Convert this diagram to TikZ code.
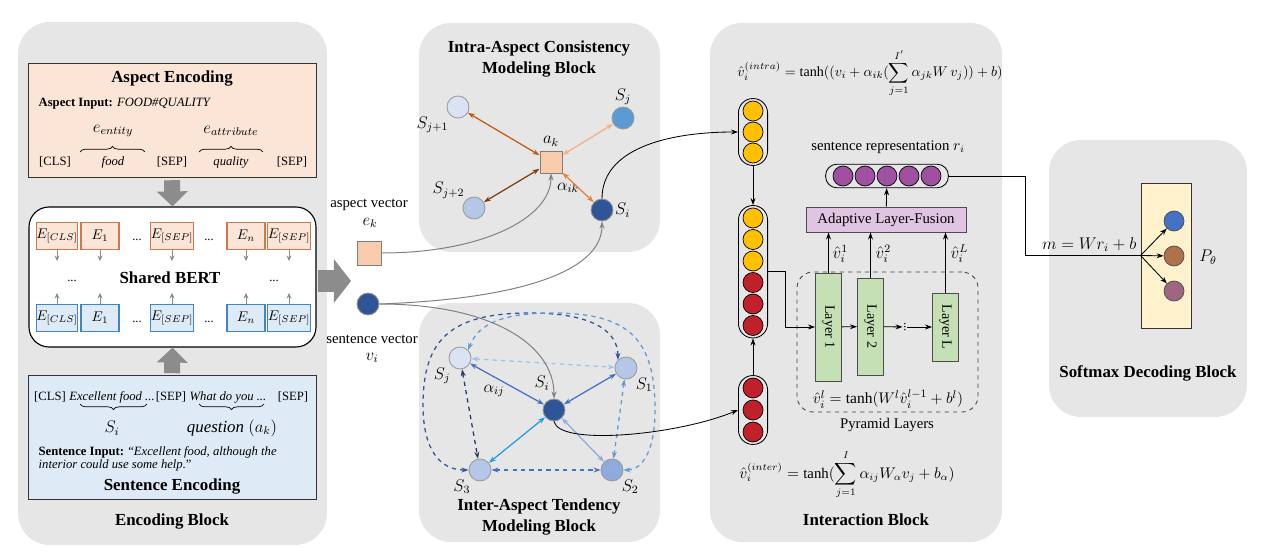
\documentclass[tikz,border=0pt]{standalone}
\usepackage{fontspec}
\setmainfont{Liberation Serif}
\usepackage{amsmath}
\usetikzlibrary{positioning,fit,shapes,calc,arrows.meta,decorations.pathreplacing}

\definecolor{blockgray}{RGB}{230,230,230}
\definecolor{peach}{RGB}{251,229,214}
\definecolor{peachdark}{RGB}{248,203,173}
\definecolor{tokorange}{RGB}{208,120,74}
\definecolor{skyfill}{RGB}{222,235,247}
\definecolor{tokblue}{RGB}{66,133,196}
\definecolor{navy}{RGB}{47,85,151}
\definecolor{navydark}{RGB}{32,56,100}
\definecolor{paleblue}{RGB}{218,227,243}
\definecolor{softblue}{RGB}{180,199,231}
\definecolor{midblue}{RGB}{143,170,220}
\definecolor{steelblue}{RGB}{91,155,213}
\definecolor{skyline}{RGB}{157,195,230}
\definecolor{royal}{RGB}{68,114,196}
\definecolor{cyanish}{RGB}{30,160,225}
\definecolor{rust}{RGB}{197,90,17}
\definecolor{darkrust}{RGB}{132,60,12}
\definecolor{lightorange}{RGB}{244,177,131}
\definecolor{orange2}{RGB}{237,125,49}
\definecolor{gold}{RGB}{255,192,0}
\definecolor{crimson}{RGB}{192,32,42}
\definecolor{plum}{RGB}{160,80,160}
\definecolor{lilac}{RGB}{224,196,226}
\definecolor{leaf}{RGB}{197,224,180}
\definecolor{cream}{RGB}{255,242,204}
\definecolor{outblue}{RGB}{68,114,196}
\definecolor{outbrown}{RGB}{176,112,72}
\definecolor{outplum}{RGB}{158,102,128}
\definecolor{arrowgray}{RGB}{140,140,140}

\begin{document}
\begin{tikzpicture}[x=0.025cm,y=-0.025cm,
        block/.style={fill=blockgray,rounded corners=0.8cm,inner sep=0pt},
        panel/.style={draw=black!80,line width=0.6pt,inner sep=0pt},
        title/.style={font=\fontsize{12}{15}\selectfont\bfseries,align=center},
        txt/.style={font=\fontsize{9}{11}\selectfont,inner sep=1pt},
        lbl/.style={font=\fontsize{10.5}{12}\selectfont,inner sep=1pt},
        mth/.style={font=\fontsize{12}{14}\selectfont,inner sep=1pt},
        tok/.style={line width=0.8pt,minimum width=0.95cm,minimum height=0.675cm,inner sep=0pt,font=\fontsize{10}{12}\selectfont},
        atok/.style={tok,draw=tokorange,fill=peach},
        stok/.style={tok,draw=tokblue,fill=skyfill},
        snode/.style={circle,draw=gray!80,line width=0.6pt,minimum size=0.55cm,inner sep=0pt},
        ball/.style={circle,draw=black,line width=0.5pt,minimum size=0.5cm,inner sep=0pt},
        capsule/.style={draw=black,line width=0.6pt,rounded corners=0.36cm,inner xsep=3pt,inner ysep=1.5pt},
        laybox/.style={draw=black!70,fill=leaf,line width=0.6pt,minimum width=0.65cm,inner sep=0pt,font=\fontsize{10}{12}\selectfont},
        bigarr/.style={draw=arrowgray,line width=0.4cm,-{Triangle[length=0.375cm,width=0.75cm]}},
        tinyarr/.style={draw=arrowgray,line width=0.6pt,-{Stealth[length=4pt,width=3.5pt]}},
        darr/.style={draw=black,line width=0.6pt,-{Stealth[length=5pt,width=3.5pt]}},
        grayarr/.style={draw=gray,line width=0.7pt,-{Stealth[length=5pt,width=3.5pt]}},
        biarr/.style={line width=0.9pt,{Stealth[length=5pt,width=3.5pt]}-{Stealth[length=5pt,width=3.5pt]}},
        dbiarr/.style={biarr,dashed},
        upbrace/.style={decorate,decoration={brace,amplitude=4pt},line width=0.5pt}
        ]
        \useasboundingbox (0,0) rectangle (1267,557);

        % the blocks
        \node[block,fit={(18,22) (327,545)}] (encblk) {};
        \node[block,fit={(419,23) (660,252)}] (intrablk) {};
        \node[block,fit={(419,303) (660,542)}] (interblk) {};
        \node[block,fit={(710,23) (1002,542)}] (actblk) {};
        \node[block,fit={(1049,140) (1247,417)}] (smblk) {};

        % aspect encoding
        \node[panel,fill=peach,fit={(28,63) (316,177)}] (aspbox) {};
        \node[title] (asptitle) at (172,79) {Aspect Encoding};
        \node[txt,anchor=west] (aspin) at (37,104) {\textbf{Aspect Input:} \textit{FOOD\#QUALITY}};
        \node[txt] (acls) at (55,162) {[CLS]};
        \node[txt] (afood) at (113,162) {\textit{food}};
        \node[txt] (asep1) at (172,162) {[SEP]};
        \node[txt] (aqual) at (231,162) {\textit{quality}};
        \node[txt] (asep2) at (292,162) {[SEP]};
        \draw[upbrace] (80,152) -- (145,152);
        \draw[upbrace] (199,152) -- (263,152);
        \node[mth] (eent) at (113,131) {$e_{entity}$};
        \node[mth] (eatt) at (231,131) {$e_{attribute}$};

        % shared bert
        \node[draw=black,line width=0.8pt,fill=white,rounded corners=0.5cm,inner sep=0pt,fit={(29,207) (316,347)}] (bert) {};
        \foreach \n/\x/\lab in {1/57/{[CLS]},2/100/1,3/172/{[SEP]},4/246/n,5/289/{[SEP]}} {
            \node[atok] (a\n) at (\x,236) {$E_{\lab}$};
            \node[stok] (b\n) at (\x,318) {$E_{\lab}$};
            \draw[tinyarr] (a\n.south) -- ++(0,11);
            \draw[tinyarr] (b\n.north) -- ++(0,-11);
        }
        \node[txt] (ad1) at (137,240) {...};
        \node[txt] (ad2) at (209,240) {...};
        \node[txt] (bd1) at (137,322) {...};
        \node[txt] (bd2) at (209,322) {...};
        \node[txt] (md1) at (72,281) {...};
        \node[txt] (md2) at (274,281) {...};
        \node[title] (berttitle) at (170,278) {Shared BERT};

        % sentence encoding
        \node[panel,fill=skyfill,fit={(28,375) (316,499)}] (sentbox) {};
        \node[txt] (scls) at (50,397) {[CLS]};
        \node[txt] (sexc) at (112,397) {\textit{Excellent food ...}};
        \node[txt] (ssep1) at (171,397) {[SEP]};
        \node[txt] (swhat) at (228,397) {\textit{What do you ...}};
        \node[txt] (ssep2) at (293,397) {[SEP]};
        \draw[upbrace] (147,404) -- (80,404);
        \draw[upbrace] (264,404) -- (199,404);
        \node[mth] (ssi) at (112,428) {$S_i$};
        \node[mth] (sq) at (232,428) {\textit{question} $(a_k)$};
        \node[txt,font=\fontsize{9}{9.3}\selectfont,anchor=west,align=left] (sin) at (37,459) {\textbf{Sentence Input:} ``\textit{Excellent food, although the}\\\textit{interior could use some help.}''};
        \node[title] (senttitle) at (172,487) {Sentence Encoding};
        \node[title] (enctitle) at (172,522) {Encoding Block};

        \draw[bigarr,shorten <=2pt] (aspbox.south) -- (bert.north);
        \draw[bigarr,shorten <=1pt] (sentbox.north) -- (bert.south);
        \coordinate (encout) at (318,281);
        \coordinate (encin) at (351,281);
        \draw[bigarr,line width=0.55cm,-{Triangle[length=0.43cm,width=1.08cm]}] (encout) -- (encin);

        % the vectors
        \node[lbl] (avtxt) at (369,205) {aspect vector};
        \node[mth] (ektxt) at (370,223) {$e_k$};
        \node[draw=gray,fill=peachdark,line width=0.6pt,minimum size=0.6cm,inner sep=0pt] (avec) at (369,253) {};
        \node[snode,fill=navy] (vvec) at (368,304) {};
        \node[lbl] (svtxt) at (372,339) {sentence vector};
        \node[mth] (vitxt) at (372,358) {$v_i$};

        % intra-aspect block
        \node[title] (intratitle) at (539,59) {Intra-Aspect Consistency\\Modeling Block};
        \node[draw=gray,fill=peachdark,line width=0.6pt,minimum size=0.55cm,inner sep=0pt,label={[mth,label distance=2pt]above:$a_k$}] (ak) at (551,162) {};
        \node[snode,fill=paleblue,label={[mth]below left:$S_{j+1}$}] (sj1) at (458,107) {};
        \node[snode,fill=steelblue,label={[mth]above:$S_j$}] (sj) at (623,118) {};
        \node[snode,fill=softblue,label={[mth]above left:$S_{j+2}$}] (sj2) at (474,208) {};
        \node[snode,fill=navy,label={[mth]right:$S_i$}] (si) at (602,210) {};
        \node[mth] (aik) at (568,188) {$\alpha_{ik}$};
        \draw[biarr,rust] (ak) -- (sj1);
        \draw[biarr,darkrust] (ak) -- (sj2);
        \draw[biarr,lightorange] (ak) -- (sj);
        \draw[biarr,orange2] (ak) -- (si);

        % inter-aspect block
        \node[title] (intertitle) at (539,517) {Inter-Aspect Tendency\\Modeling Block};
        \node[snode,fill=paleblue,label={[mth]below left:$S_j$}] (isj) at (460,358) {};
        \node[snode,fill=softblue,label={[mth]below right:$S_1$}] (is1) at (626,368) {};
        \node[snode,fill=navy] (isi) at (554,410) {};
        \node[mth] (isilab) at (542,383) {$S_i$};
        \node[snode,fill=softblue,label={[mth]below left:$S_3$}] (is3) at (480,470) {};
        \node[snode,fill=midblue,label={[mth]below right:$S_2$}] (is2) at (612,470) {};
        \node[mth] (aij) at (494,391) {$\alpha_{ij}$};
        \draw[biarr,royal] (isi) -- (isj);
        \draw[biarr,royal] (isi) -- (is1);
        \draw[biarr,cyanish] (isi) -- (is3);
        \draw[biarr,midblue] (isi) -- (is2);
        \draw[dbiarr,skyline] (isj) -- (is1);
        \draw[dbiarr,navydark] (isj) -- (is3);
        \draw[dbiarr,royal] (is3) -- (is2);
        \draw[dbiarr,steelblue] (is1) -- (is2);
        \draw[dbiarr,navy] (is3.west) .. controls (440,470) and (423,450) .. (423,405)
            .. controls (423,340) and (450,313) .. (530,313) .. controls (590,313) and (618,330) .. (is1.north west);
        \draw[dbiarr,steelblue] (is2.east) .. controls (640,470) and (655,455) .. (655,410)
            .. controls (655,340) and (630,313) .. (553,313) .. controls (500,313) and (478,325) .. (isj.north east);

        % interaction block
        \node[font=\fontsize{10}{12}\selectfont] (fintra) at (870,73) {$\hat{v}_i^{(intra)} = \tanh((v_i + \alpha_{ik}(\displaystyle\sum_{j=1}^{I'} \alpha_{jk} W\, v_j)) + b)$};
        \foreach \i/\y in {1/111,2/132,3/153} \node[ball,fill=gold] (t\i) at (753,\y) {};
        \node[capsule,fit=(t1)(t3)] (tcap) {};
        \foreach \i/\c in {1/gold,2/gold,3/gold,4/crimson,5/crimson,6/crimson}
            \node[ball,fill=\c] (m\i) at (753,{196.5+21.5*\i}) {};
        \node[capsule,fit=(m1)(m6)] (mcap) {};
        \foreach \i/\y in {1/388,2/410,3/432} \node[ball,fill=crimson] (r\i) at (753,\y) {};
        \node[capsule,fit=(r1)(r3)] (bcap) {};
        \draw[darr] (tcap) -- (mcap);
        \draw[darr] (bcap) -- (mcap);

        % pyramid layers
        \node[draw=black!75,dashed,line width=0.6pt,rounded corners=0.4cm,inner sep=0pt,fit={(797,272) (978,412)}] (pyr) {};
        \node[laybox,minimum height=2.7cm] (lay1) at (828.5,327) {\rotatebox{-90}{Layer 1}};
        \node[laybox,minimum height=2.425cm] (lay2) at (870.5,326.5) {\rotatebox{-90}{Layer 2}};
        \node[laybox,minimum height=1.7cm] (layL) at (945.5,327) {\rotatebox{-90}{Layer L}};
        \node[txt] (ldots) at (905,327) {\rotatebox{-90}{...}};
        \draw[darr] (mcap.east) -- ++(17,0) |- (lay1.west);
        \draw[darr] (lay1) -- (lay2);
        \draw[darr] (lay2) -- (ldots);
        \draw[darr] (ldots) -- (layL);
        \node[font=\fontsize{11}{13}\selectfont] (fpyr) at (888,399) {$\hat{v}_i^l = \tanh(W^l \hat{v}_i^{l-1} + b^l)$};
        \node[lbl] (pyrtxt) at (887,425) {Pyramid Layers};
        \node[font=\fontsize{10.5}{12}\selectfont] (finter) at (847,475) {$\hat{v}_i^{(inter)} = \tanh(\displaystyle\sum_{j=1}^{I} \alpha_{ij} W_\alpha v_j + b_\alpha)$};
        \node[title] (acttitle) at (866,520) {Interaction Block};

        % layer fusion
        \node[draw=black!70,fill=lilac,line width=0.6pt,minimum width=4cm,minimum height=0.625cm,inner sep=0pt,font=\fontsize{10.5}{12}\selectfont] (fusion) at (886,219.5) {Adaptive Layer-Fusion};
        \foreach \l in {lay1,lay2,layL} \draw[darr] (\l.north) -- (\l.north |- fusion.south);
        \node[mth,anchor=west] (h1) at (831,254) {$\hat{v}_i^1$};
        \node[mth,anchor=west] (h2) at (874,254) {$\hat{v}_i^2$};
        \node[mth,anchor=west] (hL) at (949,254) {$\hat{v}_i^L$};
        \foreach \i in {1,...,5} \node[ball,fill=plum] (p\i) at ({821+22*\i},176) {};
        \node[capsule,rounded corners=0.28cm,inner xsep=5pt,inner ysep=1pt,fit=(p1)(p5)] (pcap) {};
        \draw[darr] (fusion) -- (pcap);
        \node[lbl] (srtxt) at (888,147) {sentence representation $r_i$};

        % softmax block
        \node[draw=black!80,fill=cream,line width=0.6pt,minimum width=1.25cm,minimum height=3.625cm,inner sep=0pt] (probs) at (1166,255.5) {};
        \node[ball,draw=black!70,fill=outblue] (o1) at (1174,221) {};
        \node[ball,draw=black!70,fill=outbrown] (o2) at (1174,256) {};
        \node[ball,draw=black!70,fill=outplum] (o3) at (1174,291) {};
        \draw[line width=0.6pt] (pcap.east) -- ++(77,0) |- (probs.west);
        \foreach \o in {o1,o2,o3} \draw[darr] (probs.west) -- (\o);
        \node[mth,anchor=base east] (mform) at (1138,249) {$m = W r_i + b$};
        \node[mth] (ptheta) at (1208,257) {$P_\theta$};
        \node[title] (smtitle) at (1148,373) {Softmax Decoding Block};

        % the connections
        \draw[grayarr] (avec.east) .. controls +(100,0) and +(0,45) .. (ak.south);
        \draw[grayarr] (vvec.east) .. controls +(140,-5) and +(0,50) .. (si.south);
        \draw[grayarr] (vvec.east) .. controls +(110,0) and +(0,-55) .. (isi.north);
        \draw[darr] (si.north) .. controls +(0,-50) and +(-70,0) .. (tcap.west);
        \draw[darr] (isi.south) .. controls +(5,25) and +(-60,25) .. (bcap.west);
\end{tikzpicture}
\end{document}
